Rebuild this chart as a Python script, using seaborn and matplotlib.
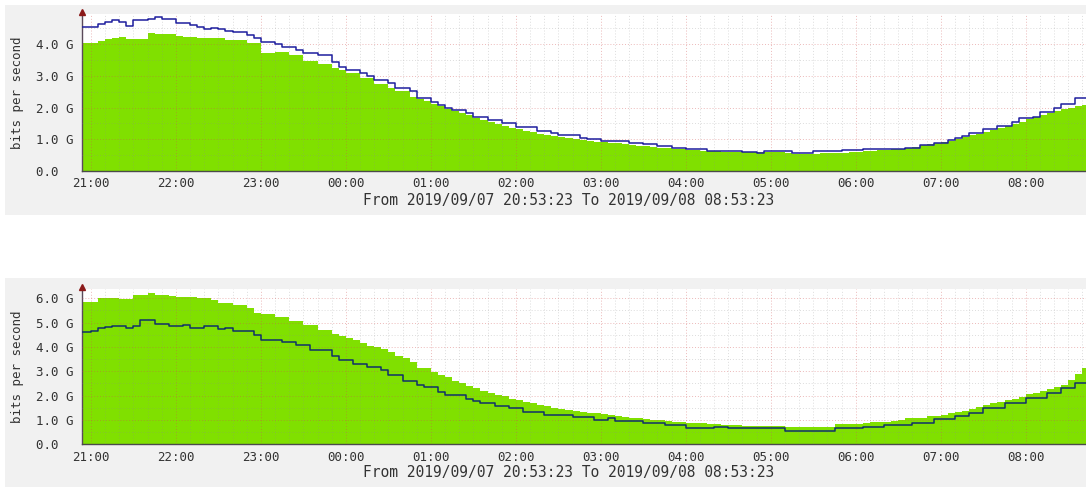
import numpy as np
import pandas as pd
import matplotlib
matplotlib.use('Agg')
import matplotlib.pyplot as plt
import matplotlib.dates as mdates
from matplotlib.patches import Rectangle
from matplotlib.ticker import MultipleLocator, FuncFormatter
import seaborn as sns

# 5 minute samples from 2019-09-07 20:50, values in Gbit/s
top_in = [4.05, 4.05, 4.05, 4.10, 4.15, 4.19, 4.23, 4.15, 4.15, 4.15,
          4.34, 4.32, 4.31, 4.31, 4.27, 4.23, 4.23, 4.19, 4.19, 4.19,
          4.19, 4.12, 4.12, 4.12, 4.03, 4.03, 3.73, 3.73, 3.76, 3.76,
          3.66, 3.66, 3.47, 3.47, 3.37, 3.37, 3.24, 3.20, 3.08, 3.08,
          2.92, 2.92, 2.74, 2.74, 2.63, 2.52, 2.52, 2.34,
          2.26, 2.20, 2.12, 2.04, 1.96, 1.89, 1.82, 1.75, 1.68, 1.61,
          1.54, 1.48, 1.42, 1.36, 1.31, 1.26, 1.22, 1.18, 1.14, 1.10,
          1.07, 1.04, 1.01, 0.98, 0.95, 0.93, 0.91, 0.89, 0.87, 0.85,
          0.82, 0.80, 0.78, 0.76, 0.74, 0.72, 0.70, 0.68, 0.67, 0.66,
          0.64, 0.63, 0.62, 0.61, 0.61, 0.60, 0.60,
          0.61, 0.61, 0.61, 0.61, 0.60, 0.58, 0.55, 0.54, 0.54, 0.55,
          0.56, 0.56, 0.57, 0.58, 0.60, 0.61, 0.62, 0.63, 0.65, 0.66,
          0.68, 0.70, 0.74, 0.77, 0.81, 0.84, 0.87, 0.91, 0.96, 1.00,
          1.06, 1.12, 1.17, 1.24, 1.30, 1.36, 1.42, 1.48, 1.56, 1.63,
          1.69, 1.76, 1.83, 1.89, 1.95, 2.00, 2.05, 2.08]

top_out = [4.55, 4.55, 4.55, 4.63, 4.70, 4.76, 4.71, 4.58, 4.76, 4.76,
           4.79, 4.84, 4.80, 4.80, 4.66, 4.66, 4.60, 4.55, 4.48, 4.50,
           4.48, 4.42, 4.39, 4.39, 4.29, 4.19, 4.06, 4.06, 4.00, 3.90,
           3.90, 3.80, 3.73, 3.73, 3.66, 3.66, 3.43, 3.29, 3.19, 3.19,
           3.08, 3.00, 2.87, 2.87, 2.77, 2.63, 2.63, 2.52,
           2.29, 2.29, 2.19, 2.08, 2.00, 1.92, 1.92, 1.82, 1.71, 1.71,
           1.61, 1.61, 1.50, 1.50, 1.38, 1.38, 1.38, 1.26, 1.26, 1.19,
           1.14, 1.14, 1.14, 1.05, 1.01, 1.01, 0.95, 0.95, 0.95, 0.95,
           0.87, 0.87, 0.84, 0.84, 0.80, 0.80, 0.74, 0.74, 0.68, 0.68,
           0.68, 0.64, 0.64, 0.64, 0.64, 0.64, 0.61,
           0.61, 0.56, 0.63, 0.63, 0.63, 0.63, 0.58, 0.58, 0.58, 0.64,
           0.64, 0.64, 0.64, 0.66, 0.66, 0.66, 0.69, 0.69, 0.69, 0.69,
           0.69, 0.69, 0.74, 0.74, 0.82, 0.82, 0.89, 0.89, 0.97, 1.03,
           1.10, 1.19, 1.19, 1.32, 1.32, 1.43, 1.43, 1.54, 1.66, 1.66,
           1.71, 1.87, 1.87, 1.98, 2.10, 2.10, 2.29, 2.29]

bottom_in = [5.86, 5.86, 5.86, 6.00, 6.00, 6.00, 5.96, 5.96, 6.14, 6.14,
             6.21, 6.14, 6.14, 6.10, 6.07, 6.07, 6.07, 6.00, 6.00, 5.93,
             5.79, 5.79, 5.73, 5.73, 5.59, 5.38, 5.34, 5.34, 5.25, 5.25,
             5.08, 5.08, 4.90, 4.90, 4.70, 4.70, 4.53, 4.45, 4.36, 4.27,
             4.18, 4.05, 4.01, 3.90, 3.80, 3.63, 3.55, 3.40,
             3.12, 3.12, 2.95, 2.85, 2.75, 2.58, 2.50, 2.40, 2.30, 2.20,
             2.10, 2.03, 1.97, 1.88, 1.82, 1.75, 1.68, 1.62, 1.56, 1.50,
             1.45, 1.40, 1.37, 1.34, 1.30, 1.27, 1.23, 1.19, 1.15, 1.12,
             1.09, 1.06, 1.03, 1.00, 0.98, 0.96, 0.93, 0.91, 0.89, 0.87,
             0.86, 0.84, 0.82, 0.80, 0.79, 0.78, 0.77,
             0.75, 0.75, 0.75, 0.75, 0.75, 0.73, 0.73, 0.73, 0.73, 0.73,
             0.73, 0.73, 0.84, 0.84, 0.84, 0.84, 0.88, 0.93, 0.93, 0.93,
             0.95, 1.00, 1.07, 1.07, 1.07, 1.16, 1.16, 1.20, 1.28, 1.34,
             1.38, 1.45, 1.55, 1.62, 1.68, 1.75, 1.82, 1.88, 1.95, 2.05,
             2.10, 2.20, 2.28, 2.37, 2.45, 2.64, 2.90, 3.12]

bottom_out = [4.63, 4.63, 4.67, 4.79, 4.80, 4.86, 4.86, 4.79, 4.86, 5.11,
              5.11, 4.93, 4.93, 4.86, 4.86, 4.90, 4.79, 4.79, 4.86, 4.86,
              4.73, 4.77, 4.67, 4.67, 4.67, 4.49, 4.29, 4.29, 4.29, 4.19,
              4.19, 4.08, 4.08, 3.88, 3.88, 3.88, 3.63, 3.47, 3.47, 3.30,
              3.30, 3.16, 3.16, 3.05, 2.85, 2.85, 2.58, 2.58,
              2.45, 2.37, 2.37, 2.16, 2.03, 2.03, 2.03, 1.85, 1.76, 1.68,
              1.68, 1.58, 1.58, 1.48, 1.48, 1.34, 1.34, 1.34, 1.21, 1.21,
              1.21, 1.21, 1.11, 1.11, 1.11, 1.00, 1.00, 1.07, 0.96, 0.96,
              0.96, 0.96, 0.89, 0.89, 0.89, 0.79, 0.79, 0.79, 0.68, 0.68,
              0.66, 0.66, 0.70, 0.70, 0.66, 0.66, 0.66,
              0.68, 0.68, 0.68, 0.68, 0.68, 0.56, 0.56, 0.56, 0.56, 0.56,
              0.56, 0.56, 0.66, 0.66, 0.66, 0.66, 0.73, 0.73, 0.73, 0.79,
              0.79, 0.79, 0.79, 0.89, 0.89, 0.89, 1.03, 1.03, 1.03, 1.16,
              1.16, 1.30, 1.30, 1.48, 1.48, 1.48, 1.68, 1.68, 1.68, 1.89,
              1.89, 1.89, 2.12, 2.12, 2.30, 2.30, 2.51, 2.51]

times = pd.date_range('2019-09-07 20:50', periods=len(top_in), freq='5min')
t_start = pd.Timestamp('2019-09-07 20:53:23')
t_end = pd.Timestamp('2019-09-08 08:42:30')
caption = 'From 2019/09/07 20:53:23 To 2019/09/08 08:53:23'

sns.set_theme(style='white')
plt.rcParams['font.family'] = ['DejaVu Sans Mono']

W, H = 1086, 487
fig = plt.figure(figsize=(W / 100, H / 100), dpi=100)
fig.patch.set_facecolor('white')


def gfmt(v, pos):
    return '0.0  ' if v == 0 else f'{v:.1f} G'


def panel(bg_top, bg_bot, ax_top, ax_base, ymax, g_in, g_out, line_color, cap_y):
    fig.patches.append(Rectangle((5 / W, 1 - bg_bot / H), 1, (bg_bot - bg_top) / H,
                                 transform=fig.transFigure, facecolor='#f1f1f1',
                                 edgecolor='none', zorder=-5))
    ax = fig.add_axes([81.5 / W, 1 - ax_base / H, 1 - 81.5 / W, (ax_base - ax_top) / H])
    ax.set_zorder(2)
    ax.set_facecolor('white')

    df = pd.DataFrame({'time': times, 'in': g_in, 'out': g_out})
    # repeat last row one step later so the final step is drawn
    last = df.iloc[[-1]].assign(time=times[-1] + pd.Timedelta('5min'))
    df = pd.concat([df, last], ignore_index=True)

    ax.fill_between(df['time'], df['in'], step='post', color='#80e000',
                    linewidth=0, zorder=1)
    sns.lineplot(data=df, x='time', y='out', drawstyle='steps-post', estimator=None,
                 color=line_color, linewidth=1.1, ax=ax, zorder=3)

    ax.set_xlim(t_start, t_end)
    ax.set_ylim(0, ymax)
    ax.xaxis.set_major_locator(mdates.HourLocator())
    ax.xaxis.set_major_formatter(mdates.DateFormatter('%H:%M'))
    ax.xaxis.set_minor_locator(mdates.MinuteLocator(byminute=range(0, 60, 10)))
    ax.yaxis.set_major_locator(MultipleLocator(1))
    ax.yaxis.set_minor_locator(MultipleLocator(0.5))
    ax.yaxis.set_major_formatter(FuncFormatter(gfmt))

    ax.set_axisbelow(False)
    ax.grid(which='minor', color='#8c8c8c', alpha=0.3, linestyle=(0, (1, 2)), linewidth=0.7)
    ax.grid(which='major', color='#d05050', alpha=0.4, linestyle=(0, (1, 2)), linewidth=0.7)

    ax.tick_params(axis='both', which='both', length=0, labelsize=9, colors='#333333')
    ax.tick_params(axis='x', pad=4.5)
    ax.tick_params(axis='y', pad=6)
    ax.set_xlabel('')
    ax.set_ylabel('')
    for s in ['top', 'right']:
        ax.spines[s].set_visible(False)
    ax.spines['left'].set_color('#5a4a5a')
    ax.spines['bottom'].set_color('#4a4a4a')
    ax.spines['left'].set_linewidth(1)
    ax.spines['bottom'].set_linewidth(1)

    ax.plot([0], [1.01], marker='^', markersize=4, color='#8b1a1a',
            transform=ax.transAxes, clip_on=False, zorder=5)

    fig.text(17 / W, 1 - (ax_top + ax_base) / 2 / H, 'bits per second', rotation=90,
             ha='center', va='center', fontsize=9, color='#333333')
    fig.text(569 / W, 1 - cap_y / H, caption, ha='center', va='center',
             fontsize=10.5, color='#333333')
    return ax


panel(5, 215, 14, 171, 4.95, top_in, top_out, '#1e1e9e', 200)
panel(278, 487, 289, 444.3, 6.38, bottom_in, bottom_out, '#10306a', 473)

fig.savefig('out.png', dpi=100)
